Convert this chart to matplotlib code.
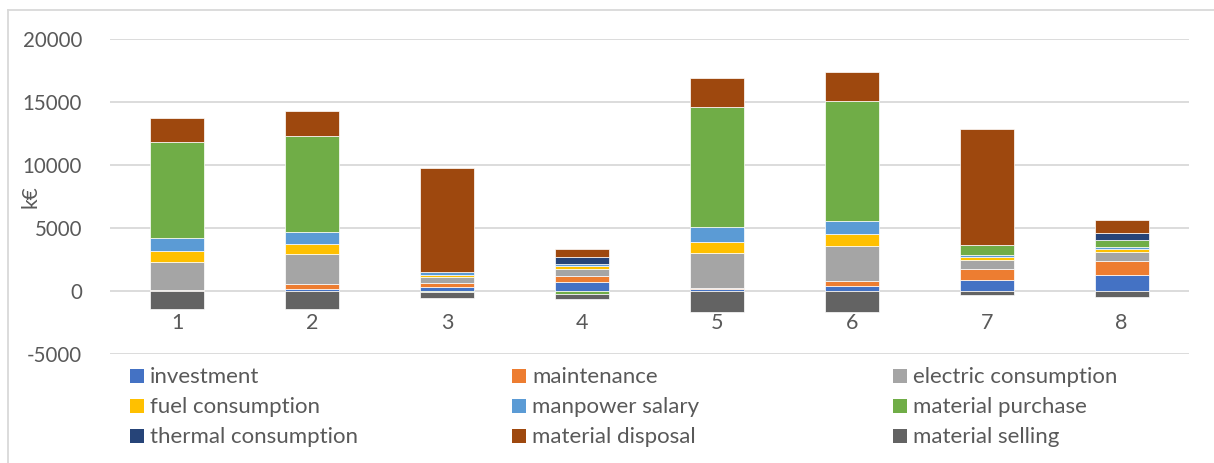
import matplotlib
matplotlib.use("Agg")
import matplotlib.pyplot as plt
from matplotlib.patches import Rectangle
from matplotlib.lines import Line2D
import numpy as np

categories = ["1", "2", "3", "4", "5", "6", "7", "8"]

investment = [30, 185, 345, 700, 130, 420, 870, 1300]
maintenance = [20, 400, 265, 530, 100, 400, 900, 1085]
electric_consumption = [2250, 2330, 500, 530, 2750, 2780, 715, 715]
fuel_consumption = [850, 790, 160, 185, 900, 925, 210, 210]
manpower_salary = [1060, 950, 240, 185, 1165, 1060, 160, 160]
material_purchase = [7620, 7650, -100, -265, 9550, 9500, 795, 580]
thermal_consumption = [0, 0, 0, 555, 0, 0, 0, 580]
material_disposal = [1930, 1960, 8230, 635, 2275, 2275, 9210, 1005]
material_selling = [-1450, -1450, -450, -400, -1690, -1690, -320, -450]

series_names = ["investment", "maintenance", "electric consumption",
                "fuel consumption", "manpower salary", "material purchase",
                "thermal consumption", "material disposal", "material selling"]
series_values = [investment, maintenance, electric_consumption, fuel_consumption,
                 manpower_salary, material_purchase, thermal_consumption,
                 material_disposal, material_selling]
colors = ["#4472C4", "#ED7D31", "#A5A5A5", "#FFC000", "#5B9BD5",
          "#70AD47", "#264478", "#9E480E", "#636363"]

y_ticks = [-5000, 0, 5000, 10000, 15000, 20000]

text_color = "#595959"
grid_color = "#D9D9D9"
font = "Lato"

W, H = 1214, 463
fig = plt.figure(figsize=(W / 100, H / 100), dpi=100)
ax = fig.add_axes([110 / W, 1 - 354 / H, (1189 - 110) / W, (354 - 39) / H])

x = np.arange(len(categories))
pos_base = np.zeros(len(categories))
neg_base = np.zeros(len(categories))
for vals, col in zip(series_values, colors):
    v = np.array(vals, dtype=float)
    bottoms = np.where(v >= 0, pos_base, neg_base)
    ax.bar(x, v, width=0.4, bottom=bottoms, color=col,
           edgecolor="white", linewidth=0.5, zorder=3)
    pos_base += np.where(v >= 0, v, 0)
    neg_base += np.where(v < 0, v, 0)

ax.set_xlim(-0.5, len(categories) - 0.5)
ax.set_ylim(-5000, 20000)
ax.set_yticks(y_ticks)
ax.set_yticklabels([str(t) for t in y_ticks], fontsize=14.8, color=text_color,
                   family=font)
ax.yaxis.grid(True, color=grid_color, linewidth=1.3, zorder=0)
ax.set_axisbelow(True)
ax.tick_params(axis="y", length=0, pad=20)
ax.set_xticks([])
for s in ax.spines.values():
    s.set_visible(False)

# category labels sit below the lowest stacked segment
for xi, c in zip(x, categories):
    ax.text(xi, -2540, c, ha="center", va="center", fontsize=15.5,
            color=text_color, family=font, zorder=4)

fig.text(30 / W, 1 - 197 / H, "k€", rotation=90, ha="center", va="center",
         fontsize=15, color=text_color, family=font)

# legend laid out in three columns below the plot
col_x = [130, 512, 893]
baselines = [383, 413, 443]
box = 14
for i, (name, col) in enumerate(zip(series_names, colors)):
    cx = col_x[i % 3]
    by = baselines[i // 3]
    fig.add_artist(Rectangle((cx / W, 1 - by / H), box / W, box / H,
                             facecolor=col, edgecolor="none",
                             transform=fig.transFigure))
    fig.text((cx + 20) / W, 1 - by / H, name, ha="left", va="baseline",
             fontsize=16, color=text_color, family=font)

# chart area border
fig.add_artist(Line2D([8 / W, 8 / W], [0, 1 - 10 / H], color=grid_color,
                      linewidth=1.3, transform=fig.transFigure))
fig.add_artist(Line2D([8 / W, 1], [1 - 10 / H, 1 - 10 / H], color=grid_color,
                      linewidth=1.3, transform=fig.transFigure))

fig.savefig("out.png", dpi=100)
